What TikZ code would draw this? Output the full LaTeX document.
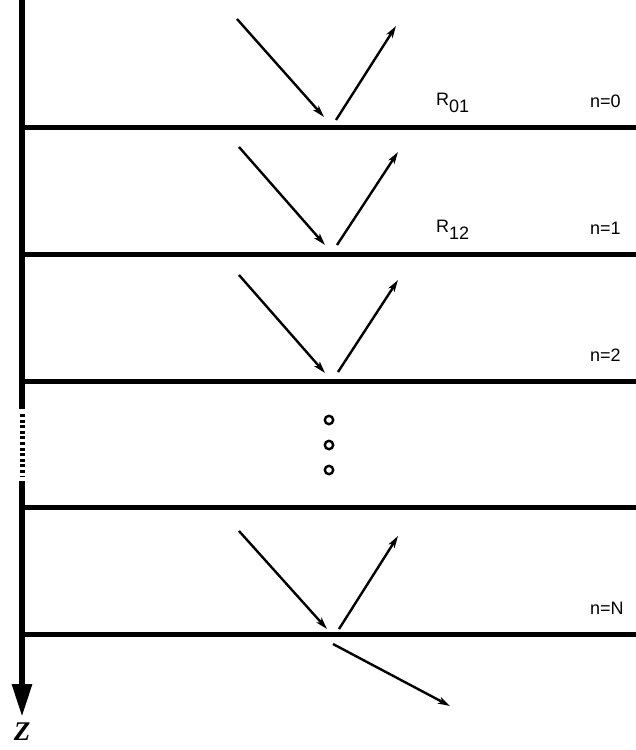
\documentclass[tikz,border=0pt]{standalone}
\usepackage{fontspec}
\setmainfont{Liberation Sans}
\newfontfamily\zfont{Liberation Serif}
\usetikzlibrary{arrows.meta}

\begin{document}
\begin{tikzpicture}[x=1pt,y=-1pt,
    boundary/.style={line width=5pt},
    axis/.style={line width=6pt},
    ray/.style={line width=2.4pt,-{Stealth[length=12pt,width=7pt,inset=3pt]}},
    lbl/.style={font=\fontsize{18}{21}\selectfont,inner sep=0pt,anchor=base west}]
             \useasboundingbox (0,0) rectangle (636,750);

             % z axis
             \draw[axis] (22,0) -- (22,409);
             \draw[axis,line width=5pt,dash pattern=on 3pt off 2.6pt] (22,414) -- (22,476);
             \draw[axis,-{Triangle[length=33pt,width=19pt]}] (22,481) -- (22,717);
             \node[font=\zfont\bfseries\itshape\fontsize{27}{30}\selectfont,inner sep=0pt] (z) at (22,732) {Z};

             % interfaces
             \draw[boundary] (22,127) -- (636,127);
             \draw[boundary] (22,254) -- (636,254);
             \draw[boundary] (22,381) -- (636,381);
             \draw[boundary] (22,507) -- (636,507);
             \draw[boundary] (22,634) -- (636,634);

             % incident and reflected rays
             \draw[ray] (237,19) -- (324,117);
             \draw[ray] (336,120) -- (396,26);
             \draw[ray] (239,147) -- (325,245);
             \draw[ray] (337,245) -- (398,152);
             \draw[ray] (239,275) -- (325,373);
             \draw[ray] (338,372) -- (398,280);
             \draw[ray] (239,531) -- (327,629);
             \draw[ray] (339,629) -- (398,536);
             \draw[ray] (333,644) -- (450,706);

             % layers left out
             \draw[line width=2.4pt] (329,420) circle (4.2);
             \draw[line width=2.4pt] (329,445) circle (4.2);
             \draw[line width=2.4pt] (329,470) circle (4.2);

             \node[lbl] (r01) at (436,105) {R\raisebox{-7pt}{01}};
             \node[lbl] (r12) at (436,232) {R\raisebox{-7pt}{12}};
             \node[lbl] (n0) at (590,107) {n=0};
             \node[lbl] (n1) at (590,234) {n=1};
             \node[lbl] (n2) at (590,361) {n=2};
             \node[lbl] (nN) at (590,614) {n=N};
             \end{tikzpicture}
\end{document}
